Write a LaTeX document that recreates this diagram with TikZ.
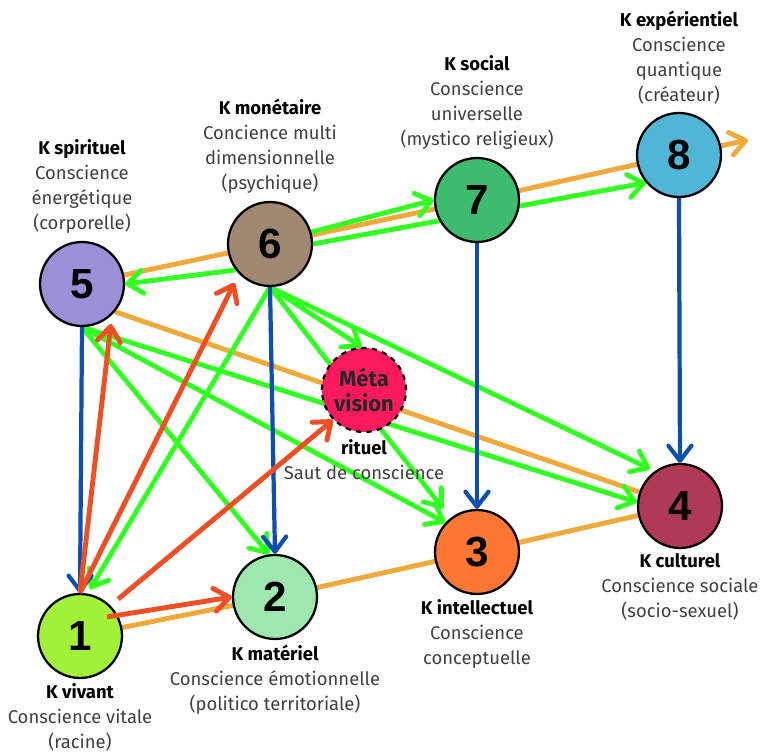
\documentclass[tikz,border=0pt]{standalone}
\usepackage{fontspec}
\setmainfont{Fira Sans}
\newfontfamily\numfont{Liberation Sans}
\usetikzlibrary{positioning,arrows.meta,backgrounds}
\definecolor{kvivant}{HTML}{A3F23A}
\definecolor{kmateriel}{HTML}{9EE8B0}
\definecolor{kintel}{HTML}{FF7733}
\definecolor{kculturel}{HTML}{B03A55}
\definecolor{kspirit}{HTML}{9B8FD8}
\definecolor{kmonet}{HTML}{A08872}
\definecolor{ksocial}{HTML}{3DBB6E}
\definecolor{kexper}{HTML}{4FB6D8}
\definecolor{kmeta}{HTML}{FF1A5E}
\definecolor{lorange}{HTML}{F0AA3C}
\definecolor{lgreen}{HTML}{33FF22}
\definecolor{lblue}{HTML}{0D4FB0}
\definecolor{lred}{HTML}{F04E23}
\definecolor{txtgray}{HTML}{404040}
\newcommand{\kname}[1]{\textcolor{black}{\bfseries #1}}
\begin{document}
\begin{tikzpicture}[
x=0.02cm,y=-0.02cm,
knode/.style={circle,draw,line width=1.3pt,minimum size=1.68cm,inner sep=0pt,font=\numfont\bfseries\fontsize{24}{24}\selectfont},
klabel/.style={align=center,inner sep=0pt,text=txtgray,font=\fontsize{10.5}{14.2}\selectfont},
headed/.style={-{Straight Barb[length=3mm,width=4.6mm,round]}},
orangeline/.style={lorange,line width=2.8pt},
greenline/.style={lgreen,line width=2.8pt,headed},
blueline/.style={lblue,line width=2.4pt,headed},
redline/.style={lred,line width=2.8pt,headed}
]
\useasboundingbox (0,0) rectangle (762,753);
\node[knode,fill=kvivant] (k1) at (80,636) {1};
\node[knode,fill=kmateriel] (k2) at (275,597) {2};
\node[knode,fill=kintel] (k3) at (477,552) {3};
\node[knode,fill=kculturel] (k4) at (680,506) {4};
\node[knode,fill=kspirit] (k5) at (82,284) {5};
\node[knode,fill=kmonet] (k6) at (270,244) {6};
\node[knode,fill=ksocial] (k7) at (477,200) {7};
\node[knode,fill=kexper] (k8) at (679,155) {8};
\node[knode,fill=kmeta,dashed,font=\bfseries\fontsize{12.5}{14}\selectfont,align=center,text=black!85] (meta) at (364,390) {Méta\\vision};
\coordinate (out) at (748,140);

\node[klabel,below=0.9mm of k1] (l1) {\kname{K vivant}\\Conscience vitale\\(racine)};
\node[klabel,below=0.9mm of k2] (l2) {\kname{K matériel}\\Conscience émotionnelle\\(politico territoriale)};
\node[klabel,below=0.9mm of k3] (l3) {\kname{K intellectuel}\\Conscience\\conceptuelle};
\node[klabel,below=0.9mm of k4] (l4) {\kname{K culturel}\\Conscience sociale\\(socio-sexuel)};
\node[klabel,above=1.5mm of k5] (l5) {\kname{K spirituel}\\Conscience\\énergétique\\(corporelle)};
\node[klabel,above=1.5mm of k6] (l6) {\kname{K monétaire}\\Concience multi\\dimensionnelle\\(psychique)};
\node[klabel,above=1.5mm of k7] (l7) {\kname{K social}\\Conscience\\universelle\\(mystico religieux)};
\node[klabel,above=1.5mm of k8] (l8) {\kname{K expérientiel}\\Conscience\\quantique\\(créateur)};
\node[klabel,below=1.2mm of meta] (lm) {\kname{rituel}\\Saut de conscience};

\begin{scope}[on background layer]
\draw[orangeline] (k1.center) -- (k2.center) -- (k3.center) -- (k4.center);
\draw[orangeline,headed] (k5.center) -- (k6.center) -- (k7.center) -- (k8.center) -- (out);
\draw[orangeline] (k5.-40) -- (k4.center);
\draw[greenline] (k6.217) -- (k5.east);
\draw[greenline] (k6.16) -- (k7.west);
\draw[greenline] (k6.east) -- (k8.220);
\draw[greenline,shorten >=1mm] (k6.south) -- (k1.80);
\draw[greenline] (k6.south) -- (meta.93);
\draw[greenline,shorten >=2.4mm] (k6.south) -- (k3.128);
\draw[greenline,shorten >=1mm] (k6.south) -- (k4.126);
\draw[greenline] (k5.south) -- (k2.98);
\draw[greenline] (k5.south) -- (k3.137);
\draw[greenline] (k5.south) -- (k4.175);
\draw[blueline] (k5.south) -- (k1.north);
\draw[blueline] (k6.south) -- (k2.north);
\draw[blueline] (k7.south) -- (k3.north);
\draw[blueline] (k8.south) -- (k4.north);
\end{scope}

\draw[redline,shorten >=1.8mm] (k1.north) -- (k5.-46);
\draw[redline,shorten >=2mm] (k1.north) -- (k6.224);
\draw[redline,shorten <=2mm] (k1.45) -- (meta.224);
\draw[redline] ([shift={(27,-19)}]k1.center) -- (k2.west);
\end{tikzpicture}
\end{document}
